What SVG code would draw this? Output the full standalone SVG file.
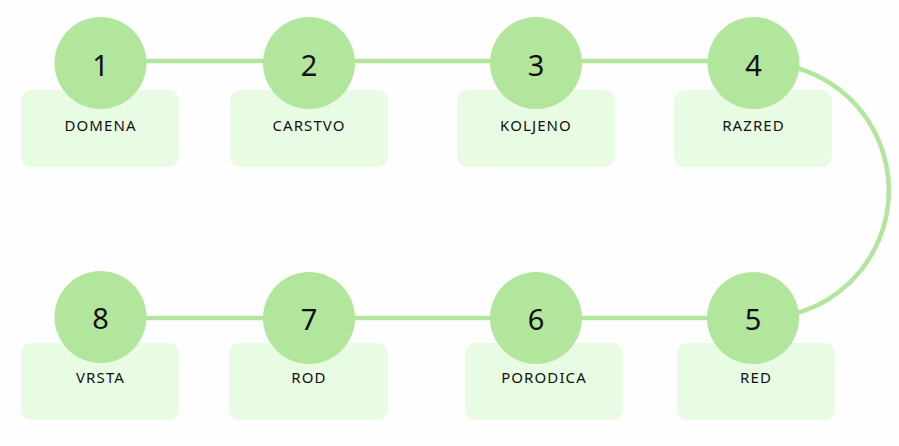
<svg xmlns="http://www.w3.org/2000/svg" width="899" height="446" viewBox="0 0 899 446">
<style>
.box{fill:#e8fbe3}
.dot{fill:#b2e69c}
.lbl{font-family:"Noto Sans","DejaVu Sans",sans-serif;font-size:15px;letter-spacing:1.1px;fill:#111;text-anchor:middle}
.num{font-family:"Noto Sans","DejaVu Sans",sans-serif;font-size:29px;fill:#111;text-anchor:middle}
.con{stroke:#b2e69c;stroke-width:4.5;fill:none}
</style>
<rect width="899" height="446" fill="#fefefe"/>
<g id="connectors">
<line class="con" x1="100" y1="61" x2="753" y2="61"/>
<line class="con" x1="100" y1="318" x2="753" y2="318"/>
<path class="con" d="M754 63 A127.7 127.7 0 1 1 754 318"/>
</g>
<g id="node1"><rect class="box" x="21" y="90" width="158" height="77" rx="11"/><circle class="dot" cx="100.5" cy="63" r="46"/><text class="num" x="100.5" y="75.5">1</text><text class="lbl" x="100.5" y="130.5">DOMENA</text></g>
<g id="node2"><rect class="box" x="230" y="90" width="158" height="77" rx="11"/><circle class="dot" cx="309" cy="63" r="46"/><text class="num" x="309" y="75.5">2</text><text class="lbl" x="309" y="130.5">CARSTVO</text></g>
<g id="node3"><rect class="box" x="457" y="90" width="158" height="77" rx="11"/><circle class="dot" cx="536" cy="63" r="46"/><text class="num" x="536" y="75.5">3</text><text class="lbl" x="536" y="130.5">KOLJENO</text></g>
<g id="node4"><rect class="box" x="674" y="90" width="158" height="77" rx="11"/><circle class="dot" cx="753.5" cy="63" r="46"/><text class="num" x="753.5" y="75.5">4</text><text class="lbl" x="753.5" y="130.5">RAZRED</text></g>
<g id="node5"><rect class="box" x="677" y="343" width="158" height="77" rx="11"/><circle class="dot" cx="753" cy="318" r="46"/><text class="num" x="753" y="329.5">5</text><text class="lbl" x="756" y="383">RED</text></g>
<g id="node6"><rect class="box" x="465" y="343" width="158" height="77" rx="11"/><circle class="dot" cx="536" cy="318" r="46"/><text class="num" x="536" y="329.5">6</text><text class="lbl" x="544" y="383">PORODICA</text></g>
<g id="node7"><rect class="box" x="229" y="343" width="159" height="77" rx="11"/><circle class="dot" cx="309" cy="318" r="46"/><text class="num" x="309" y="329.5">7</text><text class="lbl" x="309" y="383">ROD</text></g>
<g id="node8"><rect class="box" x="21" y="343" width="158" height="77" rx="11"/><circle class="dot" cx="100.5" cy="317" r="46"/><text class="num" x="100.5" y="328.5">8</text><text class="lbl" x="100.5" y="383">VRSTA</text></g>
</svg>
